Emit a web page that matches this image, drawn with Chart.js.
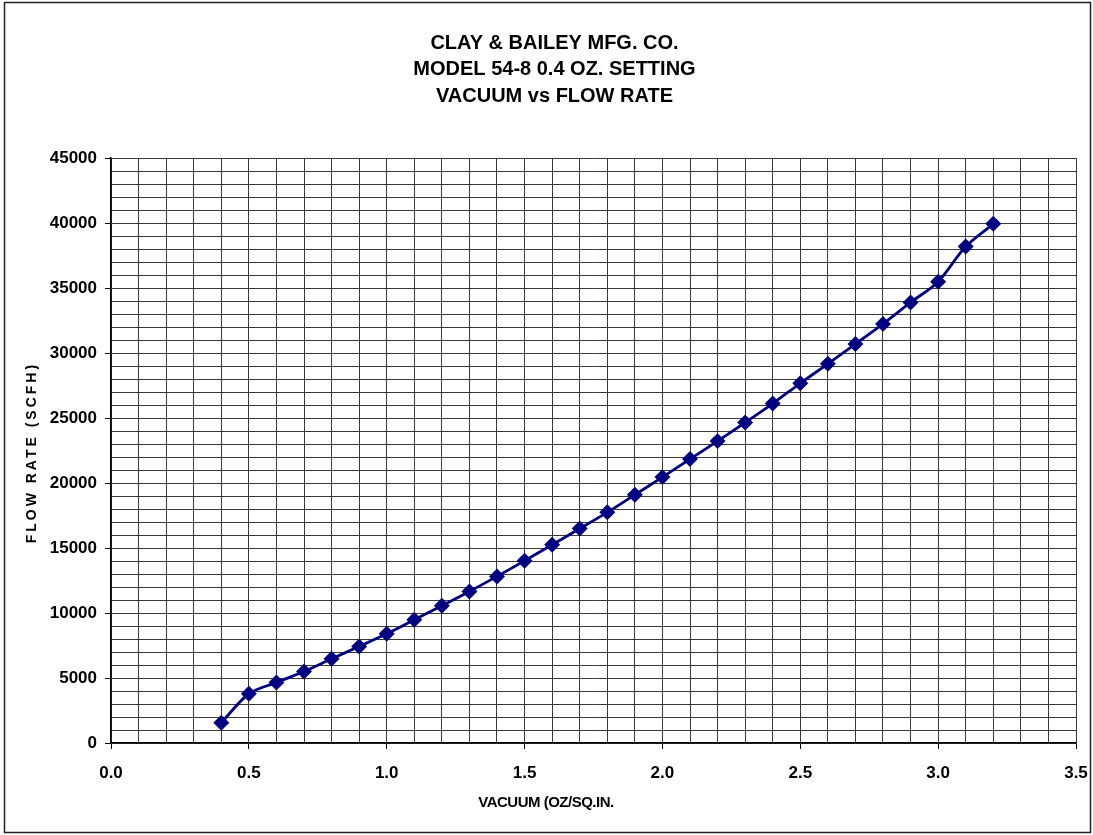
<!DOCTYPE html>
<html>
<head>
<meta charset="utf-8">
<title>Vacuum vs Flow Rate</title>
<script src="https://cdn.jsdelivr.net/npm/chart.js@4/dist/chart.umd.min.js"></script>
<style>
  html, body { margin: 0; padding: 0; background: #fff; }
  #wrap { width: 1093px; height: 835px; }
</style>
</head>
<body>
<div id="wrap"><canvas id="grafica"></canvas></div>
<script>
// datos
const vacio = [0.4, 0.5, 0.6, 0.7, 0.8, 0.9, 1.0, 1.1, 1.2, 1.3, 1.4, 1.5, 1.6, 1.7, 1.8,
               1.9, 2.0, 2.1, 2.2, 2.3, 2.4, 2.5, 2.6, 2.7, 2.8, 2.9, 3.0, 3.1, 3.2];
const flujo = [1560, 3790, 4660, 5500, 6480, 7430, 8400, 9480, 10560, 11660, 12820, 14020, 15250, 16500, 17750,
               19100, 20460, 21850, 23230, 24660, 26120, 27680, 29180, 30700, 32250, 33900, 35500, 38200, 39950];
const titulo = ['CLAY & BAILEY MFG. CO.', 'MODEL 54-8 0.4 OZ. SETTING', 'VACUUM vs FLOW RATE'];
const tituloX = 'VACUUM (OZ/SQ.IN.';
const tituloY = 'FLOW RATE (SCFH)';
const etiquetasX = ['0.0', '0.5', '1.0', '1.5', '2.0', '2.5', '3.0', '3.5'];
const etiquetasY = ['0', '5000', '10000', '15000', '20000', '25000', '30000', '35000', '40000', '45000'];

const fuente = "'Liberation Sans', Arial, sans-serif";
const azul = '#000080';
const rejilla = '#3a3a3a';

function esMayor(v, paso) {
    const q = v / paso;
    return Math.abs(q - Math.round(q)) < 1e-6;
}

// marco exterior y titulos de los ejes
const marco = {
    id: 'marco',
    afterDraw(chart) {
        const ctx = chart.ctx;
        const a = chart.chartArea;
        ctx.save();
        ctx.strokeStyle = '#222';
        ctx.lineWidth = 1.5;
        ctx.strokeRect(4.5, 2.5, 1086, 830);

        ctx.fillStyle = '#000';
        ctx.textAlign = 'center';
        ctx.textBaseline = 'middle';
        ctx.font = 'bold 15px ' + fuente;
        ctx.letterSpacing = '-0.5px';
        ctx.fillText(tituloX, 546, 803);

        ctx.translate(32, (a.top + a.bottom) / 2 + 2);
        ctx.rotate(-Math.PI / 2);
        ctx.font = 'bold 14px ' + fuente;
        ctx.letterSpacing = '3px';
        ctx.fillText(tituloY, 0, 0);
        ctx.restore();
    }
};

const ctx = document.getElementById('grafica').getContext('2d');
new Chart(ctx, {
    type: 'line',
    data: {
        datasets: [{
            data: vacio.map((v, i) => ({ x: v, y: flujo[i] })),
            borderColor: azul,
            backgroundColor: azul,
            borderWidth: 2.8,
            pointStyle: 'rectRot',
            pointRadius: 6,
            pointHoverRadius: 6,
            tension: 0.3
        }]
    },
    options: {
        responsive: true,
        maintainAspectRatio: false,
        animation: false,
        events: [],
        layout: { padding: { left: 16, right: 0, top: 0, bottom: 0 } },
        plugins: {
            legend: { display: false },
            tooltip: { enabled: false },
            title: {
                display: true,
                text: titulo,
                color: '#000',
                font: { family: fuente, size: 20, weight: 'bold', lineHeight: 1.32 },
                padding: { top: 30, bottom: 49 }
            }
        },
        scales: {
            x: {
                type: 'linear',
                min: 0,
                max: 3.5,
                afterFit(s) {
                    s.height = 92;
                    s.paddingLeft = 0;
                    s.paddingRight = 17;
                },
                grid: {
                    color: rejilla,
                    lineWidth: 1,
                    tickLength: 6,
                    tickColor: c => esMayor(c.tick.value, 0.5) ? '#000' : 'rgba(0,0,0,0)'
                },
                border: { color: '#000', width: 1.5 },
                ticks: {
                    stepSize: 0.1,
                    autoSkip: false,
                    maxRotation: 0,
                    padding: 14,
                    color: '#000',
                    font: { family: fuente, size: 17, weight: 'bold' },
                    callback: v => esMayor(v, 0.5) ? etiquetasX[Math.round(v / 0.5)] : ''
                }
            },
            y: {
                min: 0,
                max: 45000,
                afterFit(s) { s.width = 95; },
                grid: {
                    color: rejilla,
                    lineWidth: 1,
                    tickLength: 6,
                    tickColor: c => esMayor(c.tick.value, 5000) ? '#000' : 'rgba(0,0,0,0)'
                },
                border: { color: '#000', width: 1.5 },
                ticks: {
                    stepSize: 1000,
                    autoSkip: false,
                    padding: 8,
                    color: '#000',
                    font: { family: fuente, size: 17, weight: 'bold' },
                    callback: v => esMayor(v, 5000) ? etiquetasY[Math.round(v / 5000)] : ''
                }
            }
        }
    },
    plugins: [marco]
});
</script>
</body>
</html>
